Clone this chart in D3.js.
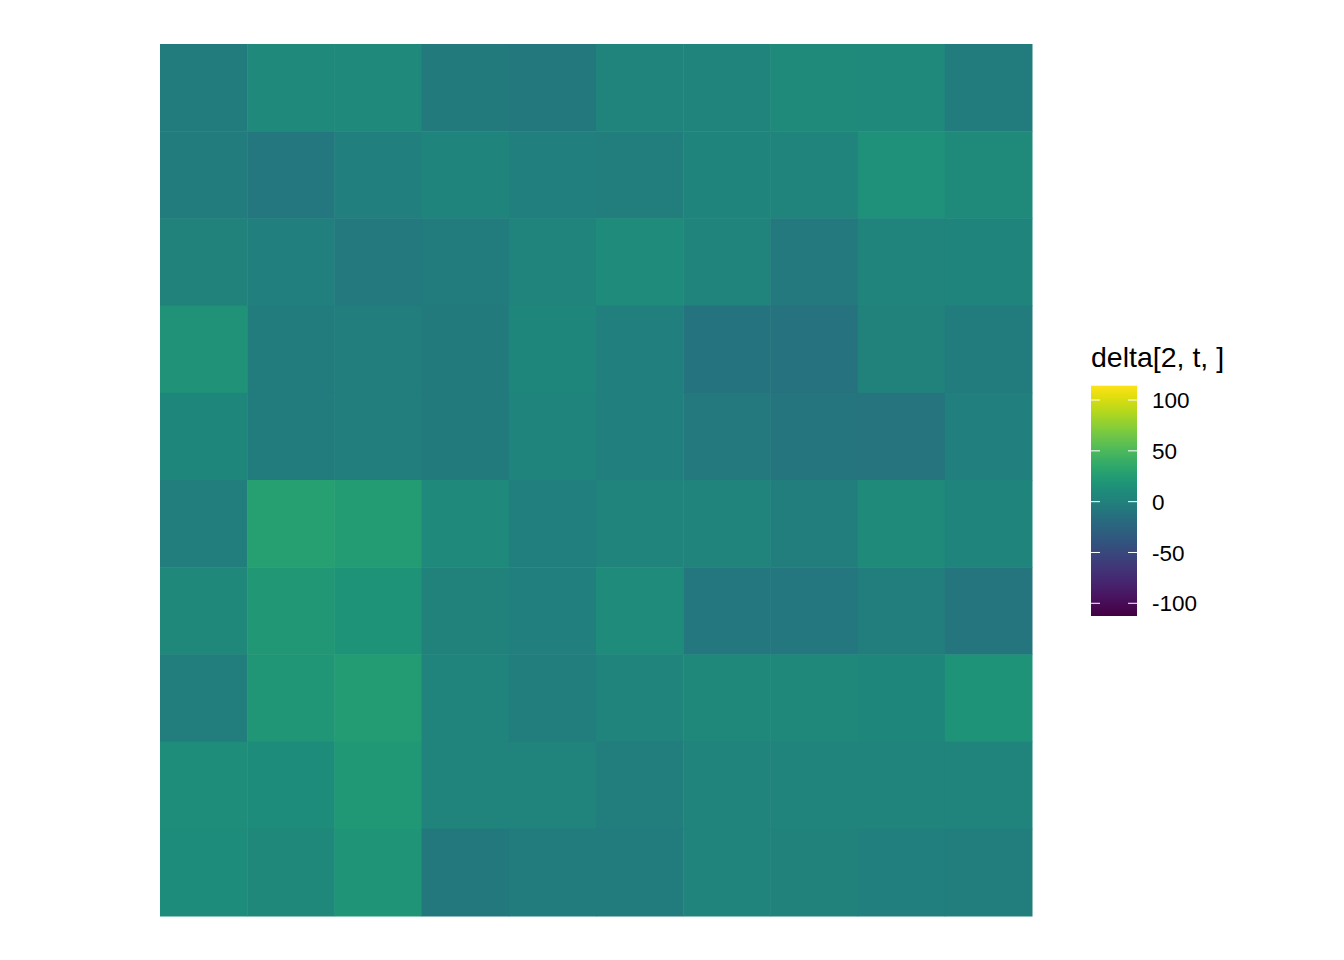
<!DOCTYPE html>
<html>
<head>
<meta charset="utf-8">
<script src="https://cdn.jsdelivr.net/npm/d3@7"></script>
<style>
  body { margin: 0; background: #fff; }
  text { font-family: "Liberation Sans", Arial, sans-serif; }
</style>
</head>
<body>
<svg id="chart" width="1344" height="960"></svg>
<script>
// grid indices (columns left->right, rows top->bottom)
var colIds = [1, 2, 3, 4, 5, 6, 7, 8, 9, 10];
var rowIds = [1, 2, 3, 4, 5, 6, 7, 8, 9, 10];

// delta values, one array per row
var row1  = [ -3,   8,   8,  -5,  -7,   4,   4,   9,   8,  -3];
var row2  = [ -4,  -8,   0,   5,   0,  -1,   5,   2,  14,   9];
var row3  = [  1,   0,  -6,  -4,   4,  10,   2,  -6,   2,   5];
var row4  = [ 15,  -4,  -1,  -5,   6,   0, -11, -13,   1,  -4];
var row5  = [  6,  -4,  -1,  -5,   5,   0,  -6,  -9, -10,   0];
var row6  = [ -1,  28,  24,   8,   0,   3,   3,  -1,   9,   5];
var row7  = [  7,  21,  17,   1,   0,  10,  -8,  -8,  -2,  -9];
var row8  = [ -2,  20,  24,   4,  -2,   3,   7,   7,   6,  16];
var row9  = [ 12,  11,  22,   3,   3,  -2,   2,   4,   4,   4];
var row10 = [ 11,   7,  18,  -7,  -3,  -4,   2,   1,   0,  -1];
var deltaRows = [row1, row2, row3, row4, row5, row6, row7, row8, row9, row10];

// colour bar range and labels
var colorDomain = [-112.5, 114.1];
var legendTicks = [-100, -50, 0, 50, 100];
var legendTitle = "delta[2, t, ]";

var svg = d3.select("#chart");

var x = d3.scaleBand().domain(colIds).range([160, 1032]);
var y = d3.scaleBand().domain(rowIds).range([44, 916]);

// viridis, shifted the way the original png shows it (green/blue a bit darker)
function viridisShift(t) {
  var c = d3.rgb(d3.interpolateViridis(t));
  var g = function(v) { return 255 * Math.pow(v / 255, 1.2); };
  return d3.rgb(c.r, g(c.g), g(c.b)).formatHex();
}
var color = d3.scaleSequential(viridisShift).domain(colorDomain);

// flatten into cells
var cells = [];
deltaRows.forEach(function(r, i) {
  r.forEach(function(v, j) {
    cells.push({row: rowIds[i], col: colIds[j], value: v});
  });
});

svg.append("g").selectAll("rect")
    .data(cells)
  .enter().append("rect")
    .attr("x", function(d) { return x(d.col); })
    .attr("y", function(d) { return y(d.row); })
    .attr("width", x.bandwidth() + 0.5)
    .attr("height", y.bandwidth() + 0.5)
    .attr("fill", function(d) { return color(d.value); });

// legend: colour bar
var barX = 1091, barW = 46;
var ly = d3.scaleLinear().domain(colorDomain).range([616, 385.7]);

var grad = svg.append("defs").append("linearGradient")
    .attr("id", "vgrad")
    .attr("x1", "0").attr("y1", "1").attr("x2", "0").attr("y2", "0");
d3.range(0, 1.0001, 0.025).forEach(function(t) {
  grad.append("stop")
      .attr("offset", t)
      .attr("stop-color", viridisShift(t));
});

var legend = svg.append("g");
legend.append("rect")
    .attr("x", barX)
    .attr("y", ly(colorDomain[1]))
    .attr("width", barW)
    .attr("height", ly(colorDomain[0]) - ly(colorDomain[1]))
    .attr("fill", "url(#vgrad)");

// white tick marks on both sides of the bar
legendTicks.forEach(function(t) {
  legend.append("line")
      .attr("x1", barX).attr("x2", barX + 9)
      .attr("y1", ly(t)).attr("y2", ly(t))
      .attr("stroke", "#fff").attr("stroke-width", 1);
  legend.append("line")
      .attr("x1", barX + barW - 9).attr("x2", barX + barW)
      .attr("y1", ly(t)).attr("y2", ly(t))
      .attr("stroke", "#fff").attr("stroke-width", 1);
});

legend.selectAll("text.lab")
    .data(legendTicks)
  .enter().append("text")
    .attr("class", "lab")
    .attr("x", 1152)
    .attr("y", function(d) { return ly(d); })
    .attr("dy", "0.36em")
    .style("font-size", "22.5px")
    .style("fill", "#000")
    .text(function(d) { return d; });

legend.append("text")
    .attr("x", 1091)
    .attr("y", 367)
    .style("font-size", "28.5px")
    .style("fill", "#000")
    .text(legendTitle);
</script>
</body>
</html>
